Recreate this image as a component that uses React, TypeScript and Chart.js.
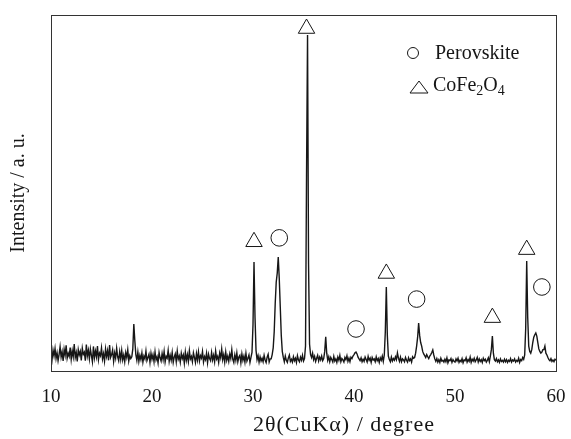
import React, { useEffect, useRef } from "react";
import { Chart, registerables } from "chart.js";
Chart.register(...registerables);

// 2θ sampling grid (degrees)
const thetaStart = 10;
const thetaStep = 0.1;

// Intensity (a.u., 0–100 of frame height), one row per degree, 10.0 … 60.0
const intensity = [
  4.8, 3.1, 5.9, 4.2, 6.3, 3.5, 5.1, 2.9, 4.6, 6.8,
  3.9, 5.4, 2.8, 6.1, 4.4, 7.2, 3.6, 5.0, 4.1, 6.6,
  3.3, 5.7, 4.0, 7.6, 3.8, 5.2, 2.7, 6.0, 4.5, 5.5,
  3.0, 6.4, 4.7, 5.3, 2.9, 7.4, 4.2, 5.8, 3.4, 6.2,
  4.4, 2.6, 6.9, 3.7, 5.6, 4.0, 7.0, 3.2, 5.0, 4.3,
  6.5, 3.4, 4.9, 2.8, 6.2, 4.1, 5.7, 3.0, 7.3, 3.8,
  4.6, 5.9, 2.7, 5.1, 3.6, 6.4, 4.0, 2.9, 5.4, 3.3,
  5.8, 3.1, 4.5, 2.6, 5.2, 3.8, 6.0, 2.8, 4.3, 3.5,
  4.0, 6.2, 13.2, 8.5, 4.6, 3.0, 5.3, 2.7, 4.4, 3.2,
  5.1, 2.5, 4.2, 3.4, 5.6, 2.9, 3.8, 4.7, 2.4, 5.0,
  3.3, 4.6, 2.6, 5.4, 3.1, 4.0, 2.3, 5.2, 3.7, 2.8,
  4.9, 3.2, 5.5, 2.5, 4.1, 3.6, 5.8, 2.7, 4.4, 3.0,
  5.2, 2.4, 3.9, 4.8, 2.6, 5.6, 3.3, 4.2, 2.5, 5.0,
  3.5, 4.5, 2.2, 5.3, 3.0, 4.6, 2.7, 5.7, 3.4, 4.1,
  2.6, 5.1, 3.8, 2.4, 4.9, 3.1, 5.4, 2.8, 4.3, 3.6,
  5.5, 2.5, 4.0, 3.2, 5.0, 2.3, 4.7, 3.5, 2.9, 5.2,
  3.1, 4.4, 2.6, 5.6, 3.4, 4.1, 2.4, 5.0, 3.7, 6.2,
  3.2, 4.6, 2.5, 5.3, 3.0, 4.2, 2.7, 4.8, 3.5, 6.0,
  3.3, 2.4, 4.5, 3.0, 5.1, 2.6, 3.9, 4.4, 2.3, 4.8,
  3.0, 4.2, 2.5, 5.0, 2.8, 3.6, 4.5, 2.4, 3.8, 5.2,
  13.0, 30.6, 15.0, 5.8, 3.2, 4.3, 2.5, 4.0, 2.8, 3.6,
  2.6, 4.4, 3.1, 2.4, 3.9, 4.7, 2.5, 3.4, 3.4, 4.6,
  6.5, 11.0, 19.0, 25.0, 27.5, 32.0, 26.0, 18.0, 10.0, 5.5,
  3.8, 2.6, 4.2, 3.0, 2.4, 3.7, 4.5, 2.7, 3.3, 2.5,
  4.0, 2.9, 3.6, 2.4, 4.3, 3.1, 2.6, 3.9, 3.0, 4.4,
  2.8, 3.5, 7.0, 55.0, 94.4, 30.0, 7.5, 4.6, 3.8, 5.0,
  3.2, 4.1, 2.7, 3.6, 4.4, 2.8, 3.9, 3.1, 4.2, 2.9,
  3.5, 5.5, 9.6, 5.0, 3.0, 4.0, 2.6, 3.8, 3.2, 2.5,
  4.1, 2.8, 3.4, 2.4, 3.9, 3.0, 4.4, 2.6, 3.5, 3.1,
  2.5, 3.8, 3.2, 4.3, 2.7, 3.6, 2.6, 3.9, 3.5, 4.2,
  4.6, 5.1, 5.3, 4.8, 3.9, 3.4, 2.9, 3.7, 2.6, 3.3,
  2.7, 3.9, 3.2, 2.5, 4.1, 3.0, 3.6, 2.4, 3.8, 3.1,
  3.4, 2.6, 4.0, 2.9, 3.5, 2.4, 3.7, 3.0, 4.2, 2.7,
  4.5, 11.0, 23.6, 10.0, 4.2, 3.2, 2.6, 3.9, 2.8, 3.5,
  3.0, 4.0, 3.2, 5.1, 3.6, 2.7, 3.9, 2.6, 3.4, 3.1,
  2.6, 3.8, 3.0, 2.5, 3.7, 2.9, 3.4, 2.5, 4.0, 3.6,
  3.8, 5.0, 7.0, 9.5, 13.5, 10.0, 8.0, 7.0, 5.5, 4.8,
  4.3, 3.8, 4.6, 4.0, 3.5, 4.2, 4.6, 5.2, 5.9, 4.5,
  3.4, 2.7, 3.5, 2.5, 3.2, 2.4, 3.6, 2.8, 3.0, 2.5,
  3.3, 2.6, 3.7, 2.3, 3.1, 2.9, 3.5, 2.4, 3.2, 2.7,
  2.5, 3.4, 2.8, 3.6, 2.4, 3.0, 2.6, 3.5, 2.3, 3.1,
  2.9, 3.7, 2.5, 3.2, 2.7, 3.9, 2.4, 3.3, 2.8, 3.6,
  2.6, 3.1, 3.8, 2.5, 3.4, 2.7, 3.2, 2.4, 3.6, 2.9,
  3.3, 2.5, 3.0, 3.7, 2.6, 4.2, 6.0, 9.8, 5.0, 3.2,
  2.8, 3.5, 2.6, 3.1, 2.4, 3.4, 2.7, 3.0, 2.5, 3.3,
  2.6, 3.2, 2.4, 3.0, 2.7, 3.5, 2.5, 3.1, 2.8, 3.4,
  2.5, 3.0, 2.7, 3.6, 2.4, 3.2, 2.9, 3.8, 3.3, 4.5,
  12.0, 30.9, 15.0, 7.0, 5.5, 5.0, 6.0, 8.0, 9.5, 10.2,
  10.7, 9.8, 8.0, 6.2, 5.5, 5.0, 5.3, 6.0, 6.0, 7.0,
  5.0, 4.5, 3.8, 3.2, 2.9, 3.5, 2.7, 3.1, 2.6, 3.3,
  3.0,
];

const xTicks = [10, 20, 30, 40, 50, 60];

// Peak markers: CoFe2O4 (triangles) and perovskite (circles)
const triangleTheta = [30.1, 35.3, 43.2, 53.7, 57.1];
const triangleI = [36.3, 96.2, 27.4, 15.0, 34.1];
const circleTheta = [32.6, 40.2, 46.2, 58.6];
const circleI = [37.4, 11.8, 20.2, 23.6];

const xTitle = "2θ(CuKα) / degree";
const yTitle = "Intensity / a. u.";

const FONT = "'Liberation Serif', 'Times New Roman', serif";
const INK = "#161616";

export default function App() {
  const ref = useRef<HTMLCanvasElement>(null);

  useEffect(() => {
    document.body.style.margin = "0";
    const pts = intensity.map((v, i) => ({ x: +(thetaStart + i * thetaStep).toFixed(2), y: v }));
    const tri = triangleTheta.map((x, i) => ({ x, y: triangleI[i] }));
    const cir = circleTheta.map((x, i) => ({ x, y: circleI[i] }));

    const framePlugin = {
      id: "frameLegend",
      afterDraw(chart: any) {
        const { ctx, chartArea: a } = chart;
        ctx.save();
        ctx.strokeStyle = "#333";
        ctx.lineWidth = 1;
        ctx.strokeRect(Math.round(a.left) + 0.5, Math.round(a.top) + 0.5, Math.round(a.right - a.left), Math.round(a.bottom - a.top));
        // x-axis title
        ctx.fillStyle = INK;
        ctx.font = `22px ${FONT}`;
        (ctx as any).letterSpacing = "1px";
        ctx.textAlign = "center";
        ctx.textBaseline = "middle";
        ctx.fillText(xTitle, a.left + (a.right - a.left) * 0.58, 425);
        (ctx as any).letterSpacing = "0px";
        // legend
        const lx = a.right - 143;
        ctx.lineWidth = 1;
        ctx.strokeStyle = INK;
        ctx.beginPath();
        ctx.arc(lx, a.top + 38, 5.5, 0, Math.PI * 2);
        ctx.stroke();
        ctx.beginPath();
        ctx.moveTo(lx + 6, a.top + 66);
        ctx.lineTo(lx + 15, a.top + 78);
        ctx.lineTo(lx - 3, a.top + 78);
        ctx.closePath();
        ctx.stroke();
        ctx.textBaseline = "alphabetic";
        ctx.textAlign = "left";
        ctx.font = `20px ${FONT}`;
        ctx.fillText("Perovskite", lx + 22, a.top + 44);
        let tx = lx + 20;
        const by = a.top + 76;
        const parts: [string, boolean][] = [["CoFe", false], ["2", true], ["O", false], ["4", true]];
        for (const [t, sub] of parts) {
          ctx.font = sub ? `14px ${FONT}` : `20px ${FONT}`;
          ctx.fillText(t, tx, sub ? by + 4 : by);
          tx += ctx.measureText(t).width;
        }
        ctx.restore();
      },
    };

    const chart = new Chart(ref.current!, {
      type: "line",
      data: {
        datasets: [
          {
            data: pts,
            borderColor: INK,
            borderWidth: 1.4,
            pointRadius: 0,
            tension: 0,
            order: 2,
          } as any,
          {
            type: "scatter",
            data: tri,
            pointStyle: "triangle",
            pointRadius: 9.5,
            borderColor: INK,
            backgroundColor: "#ffffff",
            borderWidth: 1,
            showLine: false,
            clip: false,
            order: 1,
          } as any,
          {
            type: "scatter",
            data: cir,
            pointStyle: "circle",
            pointRadius: 8.3,
            borderColor: INK,
            backgroundColor: "#ffffff",
            borderWidth: 1,
            showLine: false,
            clip: false,
            order: 1,
          } as any,
        ],
      },
      options: {
        responsive: false,
        animation: false,
        devicePixelRatio: 1,
        layout: { padding: { top: 15, right: 15, left: 0, bottom: 0 } },
        plugins: { legend: { display: false }, tooltip: { enabled: false } },
        scales: {
          x: {
            type: "linear",
            min: 10,
            max: 60,
            afterBuildTicks: (s: any) => {
              s.ticks = xTicks.map((v) => ({ value: v }));
            },
            afterFit: (s: any) => {
              s.height = 68;
              s.paddingRight = 0;
              s.paddingLeft = 0;
            },
            ticks: {
              font: { family: FONT, size: 19 },
              color: INK,
              padding: 15,
              maxRotation: 0,
              autoSkip: false,
            },
            grid: { display: false, drawTicks: false },
            border: { display: false },
            title: { display: false, text: xTitle },
          },
          y: {
            min: 0,
            max: 100,
            afterFit: (s: any) => {
              s.width = 51;
            },
            ticks: { display: false },
            grid: { display: false, drawTicks: false },
            border: { display: false },
            title: {
              display: true,
              text: yTitle,
              color: INK,
              font: { family: FONT, size: 20 },
              padding: { top: 7, bottom: 0 },
            },
          },
        },
      } as any,
      plugins: [framePlugin],
    });
    return () => chart.destroy();
  }, []);

  return (
    <div style={{ position: "absolute", left: 0, top: 0, width: 571, height: 439, background: "#fff" }}>
      <canvas ref={ref} width={571} height={439} style={{ display: "block" }} />
    </div>
  );
}
